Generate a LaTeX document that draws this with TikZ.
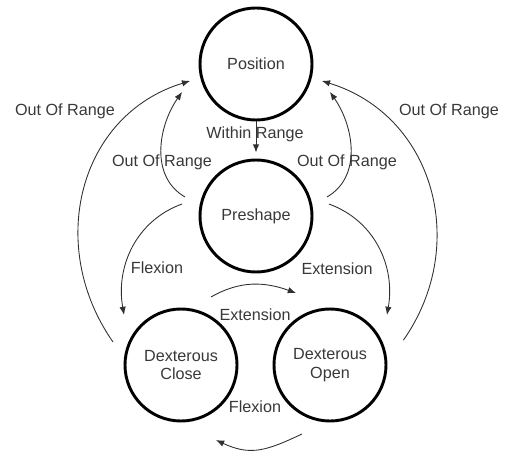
\documentclass[tikz,border=0pt]{standalone}
\usepackage{fontspec}
\setmainfont{Liberation Sans}
\usetikzlibrary{arrows.meta,calc,positioning}
\definecolor{txtgray}{HTML}{383838}
\definecolor{lnkgray}{HTML}{303030}

\begin{document}
\begin{tikzpicture}[x=0.03cm, y=0.03cm,
    font=\fontsize{13.8}{16}\selectfont,
    state/.style={circle, draw=black, line width=2.5pt, minimum size=3.36cm,
        inner sep=0pt, align=center, text=txtgray},
    lbl/.style={text=txtgray, inner sep=1pt},
    link/.style={draw=lnkgray, line width=0.75pt, -{Latex[length=7pt, width=5.5pt]}}]
    \useasboundingbox (0,0) rectangle (505,-454);
    % states
    \node[state] (pos) at (256,-64) {Position};
    \node[state] (pre) at (256,-216) {Preshape};
    \node[state] (dclose) at (181,-365) {Dexterous\\Close};
    \node[state] (dopen) at (330,-365) {Dexterous\\Open};
    % labels
    \node[lbl] (lwithin) at (255,-134) {Within Range};
    \node[lbl] (loutil) at (162,-162) {Out Of Range};
    \node[lbl] (loutir) at (347,-162) {Out Of Range};
    \node[lbl] (loutol) at (65,-111) {Out Of Range};
    \node[lbl] (loutor) at (449,-111) {Out Of Range};
    \node[lbl] (lflexl) at (157,-268) {Flexion};
    \node[lbl] (lextr) at (337,-269) {Extension};
    \node[lbl] (lextm) at (255,-315) {Extension};
    \node[lbl] (lflexm) at (255,-407) {Flexion};
    % transitions
    \path[every edge/.style={link}]
    (pos.south) edge[shorten >=0.18cm] (pre.north)
    ($(pre)+(165:73.5)$) edge[out=150, in=235] ($(pos)+(200.7:79)$)
    ($(pre)+(15:73.5)$) edge[out=30, in=-55] ($(pos)+(-20.7:79)$)
    ($(dclose)+(161.3:71.8)$) edge[out=125, in=197, looseness=1.1] ($(pos)+(194.4:68)$)
    ($(dopen)+(18.7:77.5)$) edge[out=55, in=-17, looseness=1.1] ($(pos)+(-14.4:68)$)
    ($(pre)+(170.8:75)$) edge[out=200, in=100] ($(dclose)+(138.7:75.8)$)
    ($(pre)+(9.3:74)$) edge[out=-20, in=80] ($(dopen)+(41.3:75.8)$)
    ($(dclose)+(66.2:74.3)$) edge[out=30, in=160] ($(dopen)+(115.3:79.6)$)
    ($(dopen)+(247.9:74.5)$) edge[out=205, in=-25, looseness=1.15] ($(dclose)+(-65:82.8)$);
\end{tikzpicture}
\end{document}
